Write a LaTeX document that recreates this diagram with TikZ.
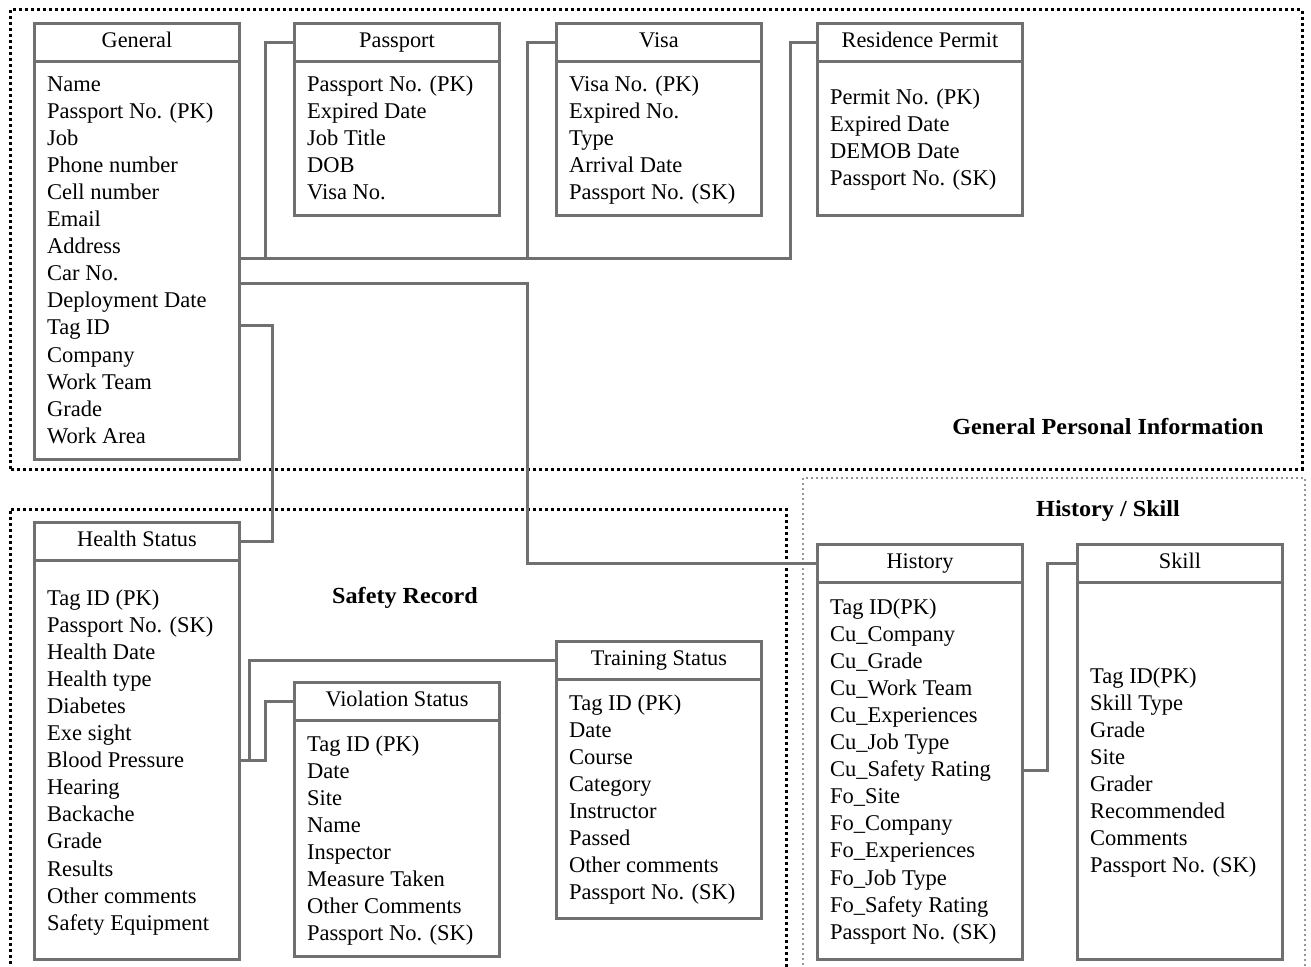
\documentclass[tikz,border=0pt]{standalone}
\usepackage{fontspec}
\setmainfont{Liberation Serif}
\definecolor{gline}{RGB}{112,112,112}
\definecolor{dotgray}{RGB}{150,150,150}
\tikzset{
  hdr/.style={draw=gline, line width=3pt, minimum width=205pt, minimum height=38pt, inner sep=0pt, text height=15pt, text depth=5pt, font=\fontsize{22.3}{27}\selectfont},
  bodybox/.style={draw=gline, line width=3pt, minimum width=205pt, inner sep=0pt},
  item/.style={inner sep=0pt, font=\fontsize{22.5}{27}\selectfont},
  conn/.style={draw=gline, line width=3pt},
  grp/.style={draw=black, line width=3pt, dash pattern=on 3pt off 3pt},
  grplight/.style={draw=dotgray, line width=2pt, dash pattern=on 2pt off 3pt},
  grplabel/.style={inner sep=0pt, font=\fontsize{23}{27}\selectfont\bfseries}
}
\newcommand\ertable[7]{%
  \node[hdr, anchor=north west] (#1) at (#2,#3) {#5};
  \node[bodybox, anchor=north west, minimum height={#4-#3-38}] (#1b) at (#2,#3+38) {};
  \foreach \t [count=\i] in {#7} \node[item, anchor=base west] (#1-\i) at (#2+14, {#6+(\i-1)*27.1}) {\t};
}
\newcommand\widen[1]{\scalebox{1.05}[1]{#1}}
\begin{document}
\begin{tikzpicture}[x=1pt,y=-1pt]
\useasboundingbox (0,0) rectangle (1311,966);
% group frames
\draw[grp] (10,469) -- (10,10) -- (1302,10) -- (1302,469) -- cycle;
\draw[grp] (10,970) -- (10,509) -- (786,509) -- (786,970);
\draw[grplight] (803,970) -- (803,478) -- (1305,478) -- (1305,970);
\node[grplabel] (lgpi) at (1108,427) {\widen{General Personal Information}};
\node[grplabel] (lhs) at (1108,511) {\widen{History / Skill}};
\node[grplabel] (lsr) at (405,598) {\widen{Safety Record}};
% tables
\ertable{gen}{33}{22}{458}{General}{91}{Name,Passport No. (PK),Job,Phone number,Cell number,Email,Address,Car No.,Deployment Date,Tag ID,Company,Work Team,Grade,Work Area}
\ertable{pass}{293}{22}{214}{Passport}{91}{Passport No. (PK),Expired Date,Job Title,DOB,Visa No.}
\ertable{visa}{555}{22}{214}{Visa}{91}{Visa No. (PK),Expired No.,Type,Arrival Date,Passport No. (SK)}
\ertable{rp}{816}{22}{214}{Residence Permit}{104}{Permit No. (PK),Expired Date,DEMOB Date,Passport No. (SK)}
\ertable{health}{33}{521}{958}{Health Status}{605}{Tag ID (PK),Passport No. (SK),Health Date,Health type,Diabetes,Exe sight,Blood Pressure,Hearing,Backache,Grade,Results,Other comments,Safety Equipment}
\ertable{viol}{293}{681}{955}{Violation Status}{751}{Tag ID (PK),Date,Site,Name,Inspector,Measure Taken,Other Comments,Passport No. (SK)}
\ertable{train}{555}{640}{917}{Training Status}{710}{Tag ID (PK),Date,Course,Category,Instructor,Passed,Other comments,Passport No. (SK)}
\ertable{hist}{816}{543}{958}{History}{614}{Tag ID(PK),Cu\_Company,Cu\_Grade,Cu\_Work Team,Cu\_Experiences,Cu\_Job Type,Cu\_Safety Rating,Fo\_Site,Fo\_Company,Fo\_Experiences,Fo\_Job Type,Fo\_Safety Rating,Passport No. (SK)}
\ertable{skill}{1076}{543}{958}{Skill}{683}{Tag ID(PK),Skill Type,Grade,Site,Grader,Recommended,Comments,Passport No. (SK)}
% connectors
\coordinate (j1) at (265,258);
\coordinate (j2) at (527,258);
\coordinate (j3) at (249,760);
\draw[conn] (genb.east |- j1) -- (790,258) |- (rp.west);
\draw[conn] (j1) |- (pass.west);
\draw[conn] (j2) |- (visa.west);
\draw[conn] (genb.east |- 0,283) -- (527,283) |- (hist.west);
\draw[conn] (genb.east |- 0,325) -- (272,325) |- (health.east);
\draw[conn] (healthb.east |- j3) -- (265,760) |- (viol.west);
\draw[conn] (j3) |- (train.west);
\draw[conn] (histb.east |- 0,770) -- (1047,770) |- (skill.west);
\end{tikzpicture}
\end{document}
